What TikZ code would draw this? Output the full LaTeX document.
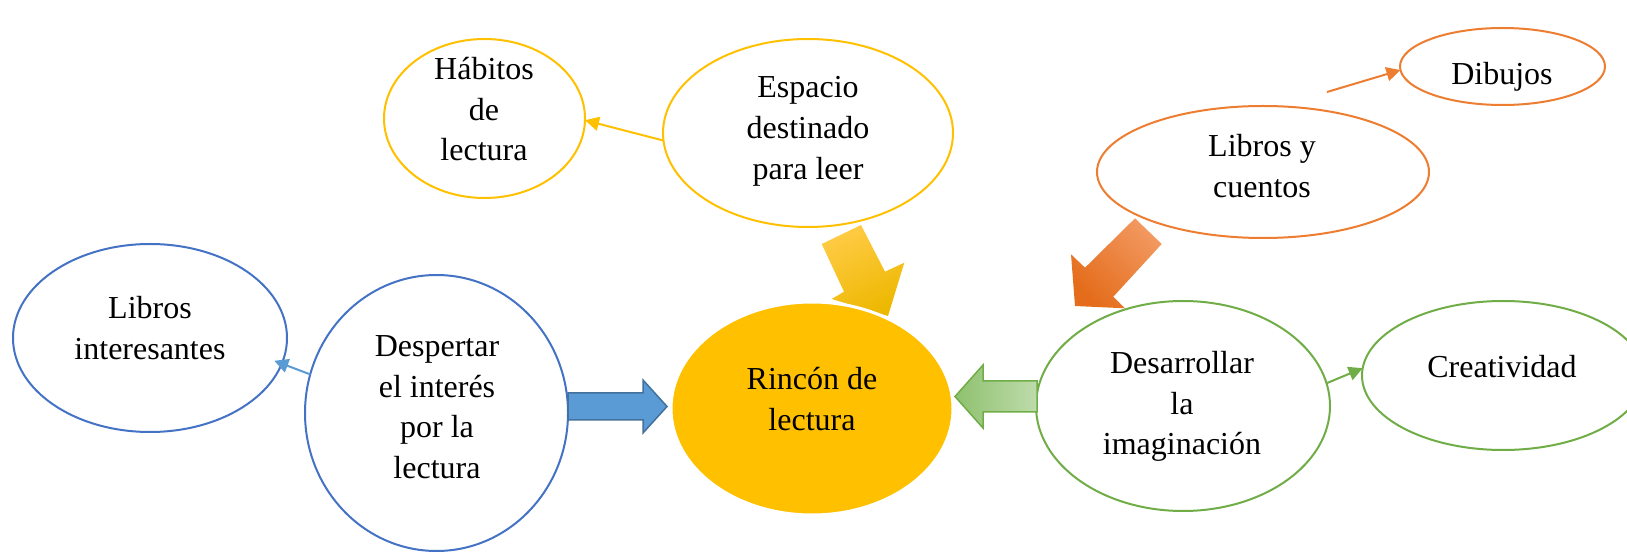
\documentclass[tikz,border=0pt]{standalone}
\usepackage{fontspec}
\setmainfont{Liberation Serif}
\usetikzlibrary{shapes.geometric,arrows.meta}
\definecolor{cyel}{HTML}{FFC000}
\definecolor{cora}{HTML}{ED7D31}
\definecolor{cblu}{HTML}{4472C4}
\definecolor{cblul}{HTML}{5B9BD5}
\definecolor{cblub}{HTML}{41719C}
\definecolor{cgrn}{HTML}{70AD47}
\definecolor{cgrnD}{HTML}{8EC16E}
\definecolor{cgrnL}{HTML}{BEDBAC}
\definecolor{cyelL}{HTML}{FFCB45}
\definecolor{cyelD}{HTML}{EDB800}
\definecolor{coraL}{HTML}{F29860}
\definecolor{coraD}{HTML}{E46C1A}
\begin{document}
\begin{tikzpicture}[x=0.5pt,y=-0.5pt,
  ell/.style={ellipse, draw, line width=1pt, inner sep=0pt, outer sep=0pt, fill=white},
  lbl/.style={align=center, font=\fontsize{16}{20.3}\selectfont, inner sep=0pt,
    execute at begin node=\strut, execute at end node=\strut},
  conn/.style={line width=1pt, -{Triangle[length=7pt,width=7pt]}},
]
\useasboundingbox (0,0) rectangle (1627,555);

% ellipses
\node[ell, draw=cyel, minimum width=100.5pt, minimum height=79.5pt] (hab) at (484.5,118.5) {};
\node[ell, draw=cyel, minimum width=145pt, minimum height=94pt] (esp) at (808,133) {};
\node[ell, draw=cora, minimum width=102.5pt, minimum height=38.5pt] (dib) at (1502.5,66.5) {};
\node[ell, draw=cora, minimum width=166pt, minimum height=66pt] (lyc) at (1263,172) {};
\node[ell, draw=cblu, minimum width=137pt, minimum height=94pt] (lin) at (150,338) {};
\node[ell, draw=cblu, minimum width=131.5pt, minimum height=138pt] (des) at (436.5,413) {};
\node[ell, draw=cgrn, minimum width=147pt, minimum height=105pt] (dim) at (1183,406) {};
\node[ell, draw=cgrn, minimum width=141pt, minimum height=74.5pt] (cre) at (1503,375.5) {};

% block arrows
\path[top color=cyelL, bottom color=cyelD, shading angle=26]
  (821.7,244) -- (861,225) -- (885,271.7) -- (904.3,262.7) -- (888,316)
  -- (831.7,299) -- (844,291.7) -- cycle;
\path[top color=coraL, bottom color=coraD, shading angle=-45]
  (1161.7,244) -- (1135,218.3) -- (1085,267.7) -- (1071,254.3) -- (1075,306)
  -- (1125,308.3) -- (1113.3,296.7) -- cycle;
\draw[fill=cblul, draw=cblub, line width=0.75pt]
  (568,393) -- (643,393) -- (643,380) -- (667,406.5) -- (643,433) -- (643,420) -- (568,420) -- cycle;
\path[draw=cgrn, line width=0.75pt, left color=cgrnD, right color=cgrnL]
  (1037,381) -- (983,381) -- (983,365) -- (955,396.5) -- (983,428) -- (983,412) -- (1037,412) -- cycle;

% central node
\node[ellipse, fill=cyel, draw=white, line width=1.5pt, inner sep=0pt, outer sep=0pt,
  minimum width=141pt, minimum height=106.5pt] (rin) at (812,408.5) {};

% thin connectors
\coordinate (lycout) at (1327,92);
\draw[conn, draw=cyel, fill=cyel] (esp.183.6) -- (hab.-1.4);
\draw[conn, draw=cora, fill=cora] (lycout) -- (dib.182);
\draw[conn, draw=cblul, fill=cblul, shorten >=-4pt] (des.163.4) -- (lin.-11.6);
\draw[conn, draw=cgrn, fill=cgrn] (dim.9.3) -- (cre.177.4);

% labels
\node[lbl] (thab) at (484,115) {Hábitos\\de\\lectura};
\node[lbl] (tesp) at (808,134) {Espacio\\destinado\\para leer};
\node[lbl] (tdib) at (1502,76) {Dibujos};
\node[lbl] (tlyc) at (1262,172) {Libros y\\cuentos};
\node[lbl] (tlin) at (150,334) {Libros\\interesantes};
\node[lbl] (tdes) at (437,413) {Despertar\\el interés\\por la\\lectura};
\node[lbl] (trin) at (812,405) {Rincón de\\lectura};
\node[lbl] (tdim) at (1182,409) {Desarrollar\\la\\imaginación};
\node[lbl] (tcre) at (1502,369) {Creatividad};
\end{tikzpicture}
\end{document}
